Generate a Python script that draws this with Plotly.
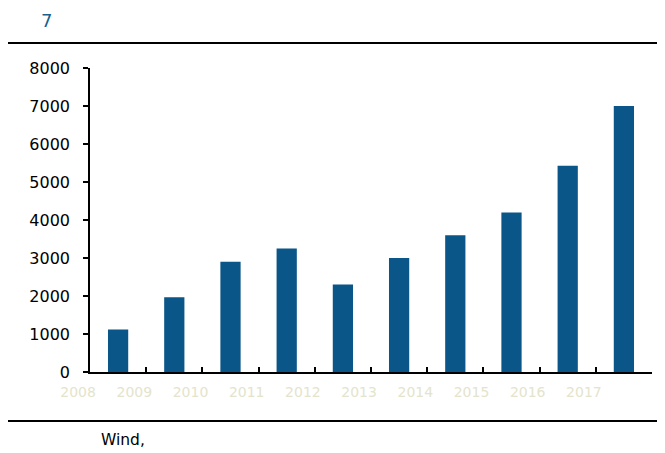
import plotly.graph_objects as go

years = ["2008", "2009", "2010", "2011", "2012", "2013", "2014", "2015", "2016", "2017"]
values = [1120, 1970, 2900, 3250, 2300, 3000, 3600, 4200, 5430, 7000]
y_ticks = [0, 1000, 2000, 3000, 4000, 5000, 6000, 7000, 8000]

bar_color = "#0a5688"
font_family = "DejaVu Sans, Liberation Sans, Arial, sans-serif"

fig = go.Figure()
fig.add_trace(go.Bar(x=years, y=values, marker_color=bar_color, marker_line_width=0))

fig.update_layout(
    width=657, height=445,
    margin=dict(l=82, r=13, t=60, b=81),
    paper_bgcolor="white", plot_bgcolor="white",
    bargap=0.64,
    showlegend=False,
    font=dict(family=font_family, size=15, color="black"),
)
fig.update_yaxes(
    range=[0, 8000], tickvals=y_ticks, showgrid=False, zeroline=False,
    showline=True, linecolor="black", linewidth=1.5,
    ticks="outside", ticklen=5, tickcolor="black", tickwidth=1.5,
    tickfont=dict(size=16, color="black"), ticklabelstandoff=10,
)
fig.update_xaxes(
    showgrid=False, showline=True, linecolor="black", linewidth=1.5,
    ticks="inside", ticklen=5, tickcolor="black", tickwidth=1.5,
    tickson="boundaries",
    tickfont=dict(size=14, color="#e4e4cc"), ticklabelshift=-40,
    ticklabelstandoff=6,
)

# horizontal rules
fig.add_shape(type="line", xref="paper", yref="paper", x0=-0.15, x1=1.03, y0=1.0822, y1=1.0822,
              line=dict(color="black", width=2))
fig.add_shape(type="line", xref="paper", yref="paper", x0=-0.15, x1=1.03, y0=-0.161, y1=-0.161,
              line=dict(color="black", width=2))

fig.add_annotation(text="7", xref="paper", yref="paper", x=-0.091, y=1.155,
                   xanchor="left", yanchor="middle", showarrow=False,
                   font=dict(size=18, color="#1b5f8c"))
fig.add_annotation(text="Wind,", xref="paper", yref="paper", x=0.0160, y=-0.224,
                   xanchor="left", yanchor="middle", showarrow=False,
                   font=dict(size=15.5, color="black"))

fig.write_html("out.html")
